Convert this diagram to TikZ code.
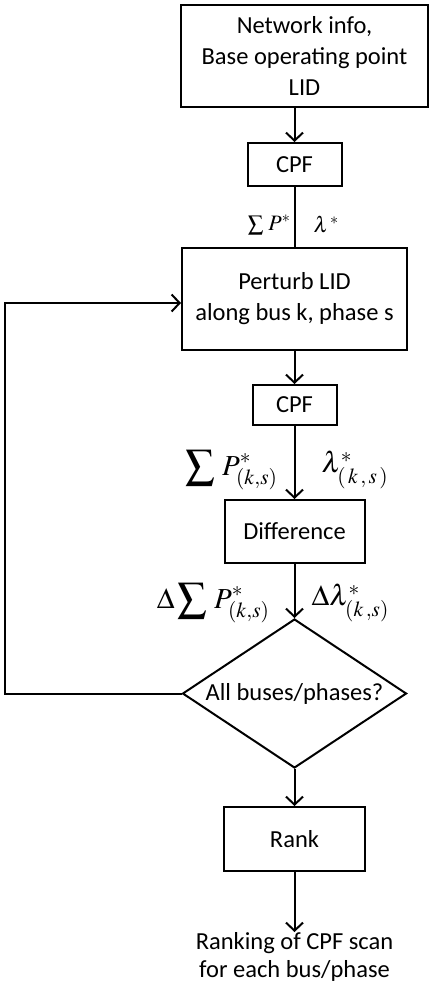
\documentclass[tikz,border=0pt]{standalone}
\usepackage{mathptmx}
\usepackage{fontspec}
\setmainfont{Carlito}
\usepackage{tikz}
\usetikzlibrary{arrows.meta,positioning,shapes.geometric}
\newcommand{\boxfont}{\fontsize{24.5}{31}\selectfont}
\newcommand{\labfont}{\fontsize{22}{26}\selectfont}
\newcommand{\biglabfont}{\fontsize{29}{32}\selectfont}
\tikzset{procbox/.style={rectangle, draw=black, line width=2pt, align=center, font=\boxfont, inner sep=2pt}, decision/.style={diamond, draw=black, line width=2pt, aspect=1.5, inner sep=0pt, align=center, font=\boxfont, minimum width=224pt, minimum height=149pt}, arrow/.style={-{Straight Barb[length=8pt, width=17pt]}, line width=2pt}, plainline/.style={line width=2pt}, mathlabel/.style={inner sep=0pt, font=\labfont}, bigmathlabel/.style={inner sep=0pt, font=\biglabfont}}

\begin{document}
\begin{tikzpicture}[x=1pt, y=1pt]
\useasboundingbox (0,0) rectangle (429,-987);
\node[procbox, minimum width=247pt, minimum height=102pt] (netinfo) at (304.5,-56) {Network info,\\Base operating point\\LID};
\node[procbox, minimum width=94pt, minimum height=43pt, below=34pt of netinfo, xshift=-10pt] (cpfa) {CPF};
\node[procbox, minimum width=225pt, minimum height=102pt, below=60pt of cpfa] (perturb) {Perturb LID\\along bus k, phase s};
\node[procbox, minimum width=84pt, minimum height=40pt, below=33pt of perturb] (cpfb) {CPF};
\node[procbox, minimum width=140pt, minimum height=63pt, below=73pt of cpfb] (diff) {Difference};
\node[decision, below=54pt of diff] (decide) {All buses/phases?};
\node[procbox, minimum width=141pt, minimum height=64pt, below=37pt of decide] (rank) {Rank};
\node[align=center, font=\fontsize{24.5}{28}\selectfont, inner sep=0pt, below=60pt of rank] (result) {Ranking of CPF scan\\for each bus/phase};
\coordinate (loopleft) at (5,0);
% main chain
\draw[arrow] (netinfo.south -| cpfa) -- (cpfa);
\draw[plainline] (cpfa) -- node[mathlabel, pos=.63, left=3pt] {$\sum\, P^{*}$} node[mathlabel, pos=.63, right=18pt] {$\lambda^{\,*}$} (cpfa |- perturb.north);
\draw[arrow] (perturb.south -| cpfb) -- (cpfb);
\draw[arrow] (cpfb) -- node[bigmathlabel, pos=.6, left=16pt] {$\displaystyle\sum\,P^{*}_{(k,s)}$} node[bigmathlabel, pos=.6, right=26pt] {$\lambda^{*}_{(\,k\,,\,s\,)}$} (diff);
\draw[arrow] (diff) -- node[bigmathlabel, pos=.72, left=24pt] {$\Delta\displaystyle\sum\,P^{*}_{(k,s)}$} node[bigmathlabel, pos=.72, right=16pt] {$\Delta\lambda^{*}_{(k\,,s)}$} (decide);
\draw[arrow] (decide) -- (rank);
\draw[arrow] (rank) -- (result);
% loop back
\draw[arrow] (decide.west) -- (decide.west -| loopleft) |- ([yshift=-4pt]perturb.west);
\end{tikzpicture}
\end{document}
